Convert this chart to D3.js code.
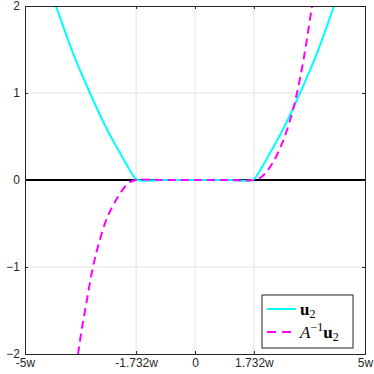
<!DOCTYPE html>
<html>
<head>
<meta charset="utf-8">
<script src="https://cdn.jsdelivr.net/npm/d3@7"></script>
<style>
  body { margin: 0; background: #fff; }
  svg { display: block; }
</style>
</head>
<body>
<svg id="chart" width="374" height="374"></svg>
<script>
// values (x in units of w)
const u2X = [-4.35, -4.09, -3.6, -3.09, -2.65, -2.35, -2.06, -1.9, -1.8, -1.7, -1, 0, 1, 1.7, 1.8, 1.9, 2.06, 2.35, 2.65, 3.09, 3.6, 4.09, 4.35];
const u2Y = [2.28, 2.0, 1.47, 1.0, 0.63, 0.41, 0.21, 0.1, 0.04, 0, 0, 0, 0, 0, 0.04, 0.1, 0.21, 0.41, 0.63, 1.0, 1.47, 2.0, 2.28];

const invX = [-3.55, -3.44, -3.32, -3.18, -3.0, -2.85, -2.59, -2.26, -1.97, -1.75, -1, 0, 1, 1.75, 1.97, 2.29, 2.59, 2.85, 3.0, 3.2, 3.44, 3.55];
const invY = [-2.3, -2.0, -1.69, -1.38, -1.0, -0.76, -0.44, -0.19, -0.04, 0, 0, 0, 0, 0, 0.04, 0.2, 0.45, 0.76, 1.0, 1.4, 2.0, 2.3];

const xTicks = [-5, -Math.sqrt(3), 0, Math.sqrt(3), 5];
const xTickLabels = ['-5w', '-1.732w', '0', '1.732w', '5w'];
const yTicks = [-2, -1, 0, 1, 2];

const margin = { top: 6, right: 9, bottom: 20, left: 25 };
const width = 374 - margin.left - margin.right;
const height = 374 - margin.top - margin.bottom;

const svg = d3.select('#chart');
const g = svg.append('g')
  .attr('transform', `translate(${margin.left},${margin.top})`);

const x = d3.scaleLinear().domain([-5, 5]).range([0, width]);
const y = d3.scaleLinear().domain([-2, 2]).range([height, 0]);

// grid
g.append('g').selectAll('line')
  .data(xTicks.slice(1, -1))
  .enter().append('line')
  .attr('x1', d => x(d)).attr('x2', d => x(d))
  .attr('y1', 0).attr('y2', height)
  .attr('stroke', '#e3e3e3').attr('stroke-width', 1);
g.append('g').selectAll('line')
  .data(yTicks.slice(1, -1))
  .enter().append('line')
  .attr('x1', 0).attr('x2', width)
  .attr('y1', d => y(d)).attr('y2', d => y(d))
  .attr('stroke', '#e3e3e3').attr('stroke-width', 1);

// zero line
g.append('line')
  .attr('x1', 0).attr('x2', width)
  .attr('y1', y(0)).attr('y2', y(0))
  .attr('stroke', '#000').attr('stroke-width', 2);

g.append('clipPath').attr('id', 'clip')
  .append('rect').attr('width', width).attr('height', height);

const line = d3.line()
  .x(d => x(d[0]))
  .y(d => y(d[1]))
  .curve(d3.curveCatmullRom.alpha(0.5));

g.append('path')
  .datum(d3.zip(u2X, u2Y))
  .attr('clip-path', 'url(#clip)')
  .attr('d', line)
  .attr('fill', 'none')
  .attr('stroke', '#00ffff')
  .attr('stroke-width', 2);

g.append('path')
  .datum(d3.zip(invX, invY))
  .attr('clip-path', 'url(#clip)')
  .attr('d', line)
  .attr('fill', 'none')
  .attr('stroke', '#ff00ff')
  .attr('stroke-width', 2)
  .attr('stroke-dasharray', '8,5');

// axes
const font = '"Liberation Sans", Arial, sans-serif';
g.append('g')
  .attr('transform', `translate(0,${height})`)
  .call(d3.axisBottom(x).tickValues(xTicks).tickFormat((d, i) => xTickLabels[i]).tickSize(-3).tickPadding(4));
const yAxis = g.append('g')
  .call(d3.axisLeft(y).tickValues(yTicks).tickFormat(d3.format('d')).tickSize(-3).tickPadding(5));
g.append('g')
  .attr('transform', `translate(${width},0)`)
  .call(d3.axisRight(y).tickValues(yTicks).tickFormat('').tickSize(-3));
g.append('g')
  .call(d3.axisTop(x).tickValues(xTicks).tickFormat('').tickSize(-3));

g.selectAll('.domain').attr('stroke', '#262626').attr('stroke-width', 1);
g.selectAll('.tick line').attr('stroke', '#262626');
g.selectAll('.tick text')
  .attr('font-family', font)
  .attr('font-size', 12)
  .attr('fill', '#262626');
yAxis.selectAll('.tick text').attr('x', -5);

// legend
const lg = svg.append('g').attr('transform', 'translate(262,295)');
lg.append('rect')
  .attr('width', 91).attr('height', 53)
  .attr('fill', '#fff').attr('stroke', '#262626').attr('stroke-width', 1);

const serif = '"Liberation Serif", "Times New Roman", serif';
lg.append('line')
  .attr('x1', 5).attr('x2', 34).attr('y1', 14).attr('y2', 14)
  .attr('stroke', '#00ffff').attr('stroke-width', 2);
lg.append('line')
  .attr('x1', 5).attr('x2', 34).attr('y1', 37).attr('y2', 37)
  .attr('stroke', '#ff00ff').attr('stroke-width', 2)
  .attr('stroke-dasharray', '9,6');

const t1 = lg.append('text')
  .attr('x', 38).attr('y', 20)
  .attr('font-family', serif).attr('font-size', 17).attr('fill', '#000');
t1.append('tspan').attr('font-weight', 'bold').text('u');
t1.append('tspan').attr('font-size', 12).attr('dy', 3).text('2');

const t2 = lg.append('text')
  .attr('x', 38).attr('y', 43)
  .attr('font-family', serif).attr('font-size', 17).attr('fill', '#000');
t2.append('tspan').attr('font-style', 'italic').text('A');
t2.append('tspan').attr('font-size', 12).attr('dy', -7).text('−1');
t2.append('tspan').attr('font-weight', 'bold').attr('dy', 7).text('u');
t2.append('tspan').attr('font-size', 12).attr('dy', 3).text('2');
</script>
</body>
</html>
